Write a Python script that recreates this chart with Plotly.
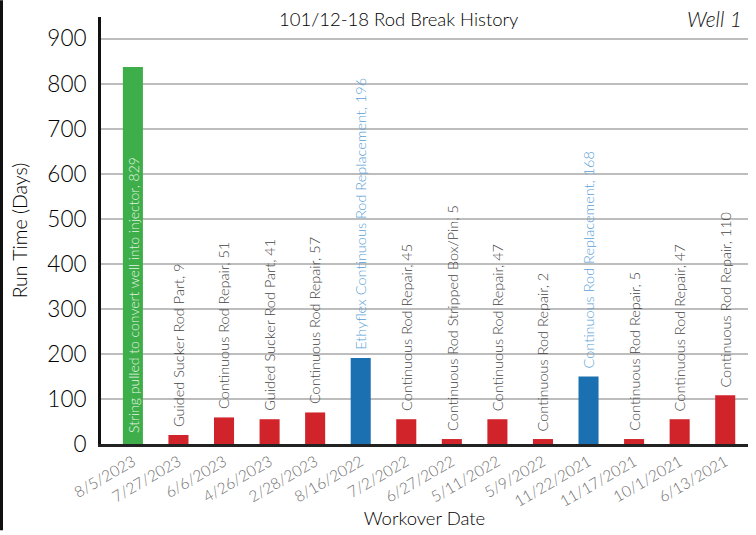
import plotly.graph_objects as go

dates = ["8/5/2023", "7/27/2023", "6/6/2023", "4/26/2023", "2/28/2023", "8/16/2022",
         "7/2/2022", "6/27/2022", "5/11/2022", "5/9/2022", "11/22/2021", "11/17/2021",
         "10/1/2021", "6/13/2021"]
run_days = [837, 20, 59, 55, 70, 191, 55, 11, 55, 11, 150, 11, 55, 108]
labels = ["String pulled to convert well into injector, 829",
          "Guided Sucker Rod Part, 9",
          "Continuous Rod Repair, 51",
          "Guided Sucker Rod Part, 41",
          "Continuous Rod Repair, 57",
          "Ethyflex Continuous Rod Replacement, 196",
          "Continuous Rod Repair, 45",
          "Continuous Rod Stripped Box/Pin, 5",
          "Continuous Rod Repair, 47",
          "Continuous Rod Repair, 2",
          "Continuous Rod Replacement, 168",
          "Continuous Rod Repair, 5",
          "Continuous Rod Repair, 47",
          "Continuous Rod Repair, 110"]
kinds = ["convert", "repair", "repair", "repair", "repair", "replace", "repair", "repair",
         "repair", "repair", "replace", "repair", "repair", "repair"]
yticks = [0, 100, 200, 300, 400, 500, 600, 700, 800, 900]

bar_colors = {"convert": "#3dae49", "repair": "#d0232a", "replace": "#1a70b0"}
label_colors = {"convert": "#e6f5e6", "repair": "#444444", "replace": "#5b9fd6"}

FONT = "Lato"

fig = go.Figure()
fig.add_trace(go.Bar(
    x=dates, y=run_days, width=0.44,
    marker=dict(color=[bar_colors[k] for k in kinds], line=dict(width=0)),
    hoverinfo="skip",
))

for d, v, lab, k in zip(dates, run_days, labels, kinds):
    if k == "convert":
        fig.add_annotation(x=d, y=0, text=lab, textangle=-90, showarrow=False,
                           xanchor="center", yanchor="bottom", yshift=9,
                           font=dict(family=FONT, size=14, color=label_colors[k], weight=300))
    else:
        fig.add_annotation(x=d, y=v, text=lab, textangle=-90, showarrow=False,
                           xanchor="center", yanchor="bottom", yshift=6,
                           font=dict(family=FONT, size=14.5, color=label_colors[k], weight=300))

fig.add_annotation(xref="paper", yref="paper", x=(398 - 101) / 647, y=1 + (17 - 19) / 431,
                   text="101/12-18 Rod Break History", showarrow=False,
                   xanchor="center", yanchor="middle",
                   font=dict(family=FONT, size=18.5, color="#000000", weight=300))
fig.add_annotation(xref="paper", yref="paper", x=(744 - 101) / 647, y=1 + (17 - 19) / 431,
                   text="<i>Well 1</i>", showarrow=False,
                   xanchor="right", yanchor="middle",
                   font=dict(family=FONT, size=21, color="#111111", weight=300))

# page frame on the left edge
fig.add_shape(type="line", xref="paper", yref="paper",
              x0=(1.5 - 101) / 647, x1=(1.5 - 101) / 647,
              y0=-(535 - 448) / 431, y1=1 + 17 / 431,
              line=dict(color="#111111", width=3))

fig.update_layout(
    width=756, height=535,
    margin=dict(l=101, r=8, t=17, b=87),
    paper_bgcolor="white", plot_bgcolor="white",
    showlegend=False,
    font=dict(family=FONT, color="#222222"),
    bargap=0.5,
)
fig.update_xaxes(
    type="category", range=[-0.7, 13.5],
    tickangle=-30, tickfont=dict(family=FONT, size=15.5, color="#6e6e6e", weight=300),
    showline=True, linecolor="#222222", linewidth=3,
    showgrid=False, ticks="",
    title=dict(text="Workover Date", font=dict(family=FONT, size=18.5, color="#000000", weight=300), standoff=4),
)
fig.update_yaxes(
    range=[0, 948], tickvals=yticks, ticktext=[str(t) for t in yticks],
    tickfont=dict(family=FONT, size=22.5, color="#000000", weight=300),
    showline=True, linecolor="#111111", linewidth=3,
    showgrid=True, gridcolor="#bdbdbd", gridwidth=2,
    zeroline=False, ticks="", ticklabelstandoff=7,
    title=dict(text="Run Time (Days)", font=dict(family=FONT, size=19.5, color="#000000", weight=300), standoff=15),
)

fig.write_html("out.html", config={"displayModeBar": False},
               post_script="document.body.style.margin='0';")
